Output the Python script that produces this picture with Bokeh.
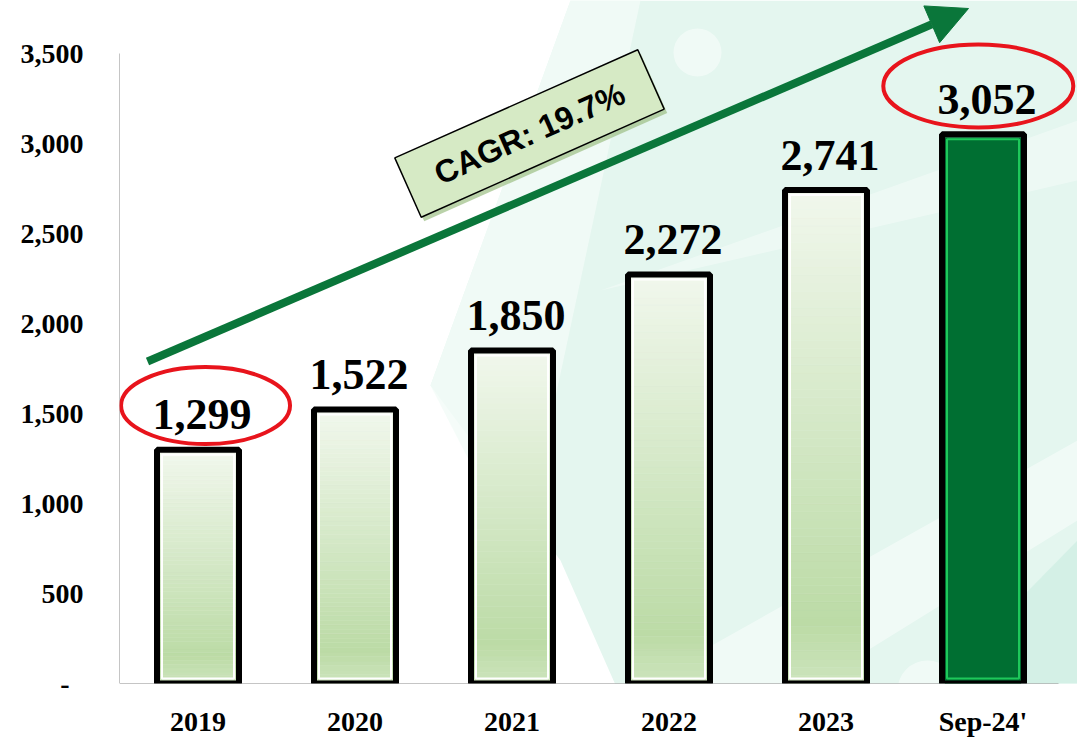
import math
from bokeh.plotting import figure
from bokeh.models import Range1d, FixedTicker, Arrow, NormalHead
from bokeh.core.properties import value
from bokeh.embed import file_html
from bokeh.resources import INLINE

# ---------------- data ----------------
categories = ["2019", "2020", "2021", "2022", "2023", "Sep-24'"]
values = [1299, 1522, 1850, 2272, 2741, 3052]
highlighted = ["2019", "Sep-24'"]
y_ticks = [0, 500, 1000, 1500, 2000, 2500, 3000, 3500]
cagr_label = "CAGR: 19.7%"

# ---------------- layout helpers ----------------
W, H = 1077, 741
FRAME_LEFT = 119
BOTTOM = 58
CAT_PX = 157.0            # px per category
PX_PER_UNIT = 0.18        # px per y unit
frame_w = W - FRAME_LEFT
frame_h = H - BOTTOM

def X(px):   # page px -> data x
    return (px - FRAME_LEFT) / CAT_PX

def Y(py):   # page px -> data y
    return (frame_h - py) / PX_PER_UNIT

p = figure(width=W, height=H, output_backend="svg", toolbar_location=None,
           x_range=Range1d(0, frame_w / CAT_PX), y_range=Range1d(0, frame_h / PX_PER_UNIT),
           min_border_left=FRAME_LEFT, min_border_right=0, min_border_top=0,
           min_border_bottom=BOTTOM)
p.outline_line_color = None
p.grid.grid_line_color = None
p.background_fill_color = "white"
p.border_fill_color = "white"

# ---------------- background decoration ----------------
bg = [
    ([570, 1077, 1077, 640, 560, 430], [0, 0, 741, 741, 560, 385], "#e4f6ef", 1.0),
    ([430, 570, 640, 520], [385, 0, 0, 560], "#f3fbf8", 0.8),
    ([540, 720, 1077, 1077], [741, 741, 520, 440], "#ffffff", 0.45),
    ([600, 1077, 1077], [290, 120, 180], "#ffffff", 0.35),
    ([880, 1077, 1077], [741, 741, 540], "#cdeee2", 0.7),
]
for xs, ys, c, a in bg:
    p.patch([X(v) for v in xs], [Y(v) for v in ys], fill_color=c, fill_alpha=a, line_color=None)
p.scatter(x=[X(697), X(927)], y=[Y(52), Y(690)], size=[48, 60], marker="circle",
          fill_color="white", fill_alpha=0.45, line_color=None)

# ---------------- axes ----------------
centers = [i + 0.5 for i in range(len(categories))]
p.xaxis.ticker = FixedTicker(ticks=centers)
p.xaxis.major_label_overrides = {c: lab for c, lab in zip(centers, categories)}
p.yaxis.ticker = FixedTicker(ticks=y_ticks)
p.yaxis.major_label_overrides = {t: ("-\u00a0\u00a0" if t == 0 else f"{t:,}") for t in y_ticks}
for ax in (p.xaxis[0], p.yaxis[0]):
    ax.axis_line_color = None
    ax.major_tick_line_color = None
    ax.minor_tick_line_color = None
    ax.major_tick_out = 0
    ax.major_tick_in = 0
    ax.major_label_text_font = "Liberation Serif"
    ax.major_label_text_font_style = "bold"
    ax.major_label_text_font_size = "28px"
    ax.major_label_text_color = "black"
p.xaxis.major_label_standoff = 22
p.yaxis.major_label_standoff = 36

n = len(categories)
p.segment(x0=[0, 0], y0=[0, 0], x1=[0, X(1058)], y1=[y_ticks[-1], 0],
          line_color="#8c8c8c", line_width=1)

# ---------------- bars ----------------
def lerp(c1, c2, t):
    a = [int(c1[i:i + 2], 16) for i in (1, 3, 5)]
    b = [int(c2[i:i + 2], 16) for i in (1, 3, 5)]
    return "#%02x%02x%02x" % tuple(round(a[i] + (b[i] - a[i]) * t) for i in range(3))

def grad(t):
    if t < 0.12:
        return lerp("#cde4bd", "#bcdba6", t / 0.12)
    return lerp("#bcdba6", "#f1f7ec", (t - 0.12) / 0.88)

outer_w = 82 / CAT_PX
fill_half = 38 / CAT_PX
inner_w = 72 / CAT_PX
NSEG = 60
ql, qr, qb, qt, qc = [], [], [], [], []
for c, v, cat in zip(centers, values, categories):
    top = v - 3 / PX_PER_UNIT
    if cat == categories[-1]:
        ql.append(c - fill_half); qr.append(c + fill_half)
        qb.append(0); qt.append(top); qc.append("#006f32")
        continue
    for k in range(NSEG):
        ql.append(c - fill_half); qr.append(c + fill_half)
        qb.append(top * k / NSEG); qt.append(top * (k + 1) / NSEG)
        qc.append(grad((k + 0.5) / NSEG))
p.quad(left=ql, right=qr, bottom=qb, top=qt, fill_color=qc, line_color=qc, line_width=0.5)

inner_colors = ["#1ec85a" if cat == categories[-1] else "#ffffff" for cat in categories]
p.vbar(x=centers, width=inner_w, bottom=[5 / PX_PER_UNIT] * n,
       top=[v - 5 / PX_PER_UNIT for v in values],
       fill_color=None, line_color=inner_colors, line_width=2)
p.vbar(x=centers, width=outer_w, bottom=0, top=values,
       fill_color=None, line_color="black", line_width=6)

# value labels
LABEL_GAP = 35 / PX_PER_UNIT
p.text(x=[c + 4 / CAT_PX for c in centers], y=[v + LABEL_GAP for v in values],
       text=[f"{v:,}" for v in values],
       text_align="center", text_baseline="alphabetic",
       text_font=value("Liberation Serif"), text_font_style="bold",
       text_font_size="44px", text_color="black")

# highlight ellipses
hx = [centers[categories.index(h)] for h in highlighted]
hv = [values[categories.index(h)] for h in highlighted]
p.ellipse(x=[hx[0] + 0.048, hx[1] - 0.03], y=[hv[0] + 245, hv[1] + 268],
          width=[169, 190], height=[77, 83], width_units="screen", height_units="screen",
          fill_color=None, line_color="#e8141c", line_width=4)

# ---------------- CAGR arrow & box ----------------
G = "#0a763a"
p.add_layout(Arrow(end=NormalHead(size=40, fill_color=G, line_color=G, line_width=1),
                   x_start=X(147), y_start=Y(361), x_end=X(968), y_end=Y(8),
                   line_color=G, line_width=8))

ang = math.radians(24)
p.rect(x=[X(532)], y=[Y(137)], width=266, height=65,
       width_units="screen", height_units="screen", angle=ang,
       fill_color="#9dbf84", fill_alpha=0.7, line_color=None)
p.rect(x=[X(529)], y=[Y(133)], width=266, height=65,
       width_units="screen", height_units="screen", angle=ang,
       fill_color="#d6eac5", line_color="black", line_width=1.5)
p.text(x=[X(529)], y=[Y(133)], text=[cagr_label], angle=ang,
       text_align="center", text_baseline="middle",
       text_font=value("Liberation Sans"), text_font_style="bold",
       text_font_size="32px", text_color="black")

open("out.html", "w").write(file_html(p, INLINE))
